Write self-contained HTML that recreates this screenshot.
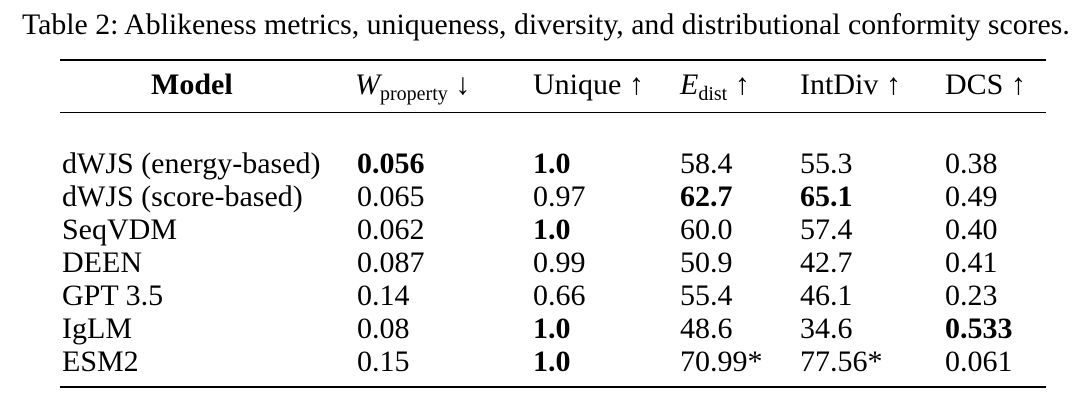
<!DOCTYPE html>
<html><head><meta charset="utf-8"><style>
body{margin:0;width:1080px;height:405px;background:#fff;font-family:"Liberation Serif",serif;color:#000;position:relative;overflow:hidden}
.t{position:absolute;white-space:nowrap;font-size:30px;line-height:1}
.r{position:absolute;left:60px;width:986px;background:#000}
b{font-weight:bold}
sub{font-size:20px;vertical-align:-6px}
</style></head><body>
<div class="t" style="left:22px;top:10px;font-size:29.8px">Table 2: Ablikeness metrics, uniqueness, diversity, and distributional conformity scores.</div>
<div class="r" style="top:59px;height:2px"></div>
<div class="t" style="left:151px;top:70px"><b>Model</b></div>
<div class="t" style="left:355px;top:70px"><i>W</i><sub>property</sub> ↓</div>
<div class="t" style="left:533px;top:70px">Unique ↑</div>
<div class="t" style="left:680px;top:70px"><i>E</i><sub>dist</sub> ↑</div>
<div class="t" style="left:800px;top:70px">IntDiv ↑</div>
<div class="t" style="left:945px;top:70px">DCS ↑</div>
<div class="r" style="top:112px;height:1px"></div>
<div class="t" style="left:62px;top:147px;line-height:33px">dWJS (energy-based)<br>dWJS (score-based)<br>SeqVDM<br>DEEN<br>GPT 3.5<br>IgLM<br>ESM2</div>
<div class="t" style="left:357px;top:147px;line-height:33px"><b>0.056</b><br>0.065<br>0.062<br>0.087<br>0.14<br>0.08<br>0.15</div>
<div class="t" style="left:533px;top:147px;line-height:33px"><b>1.0</b><br>0.97<br><b>1.0</b><br>0.99<br>0.66<br><b>1.0</b><br><b>1.0</b></div>
<div class="t" style="left:680px;top:147px;line-height:33px">58.4<br><b>62.7</b><br>60.0<br>50.9<br>55.4<br>48.6<br>70.99*</div>
<div class="t" style="left:800px;top:147px;line-height:33px">55.3<br><b>65.1</b><br>57.4<br>42.7<br>46.1<br>34.6<br>77.56*</div>
<div class="t" style="left:945px;top:147px;line-height:33px">0.38<br>0.49<br>0.40<br>0.41<br>0.23<br><b>0.533</b><br>0.061</div>
<div class="r" style="top:386px;height:2px"></div>
</body></html>
